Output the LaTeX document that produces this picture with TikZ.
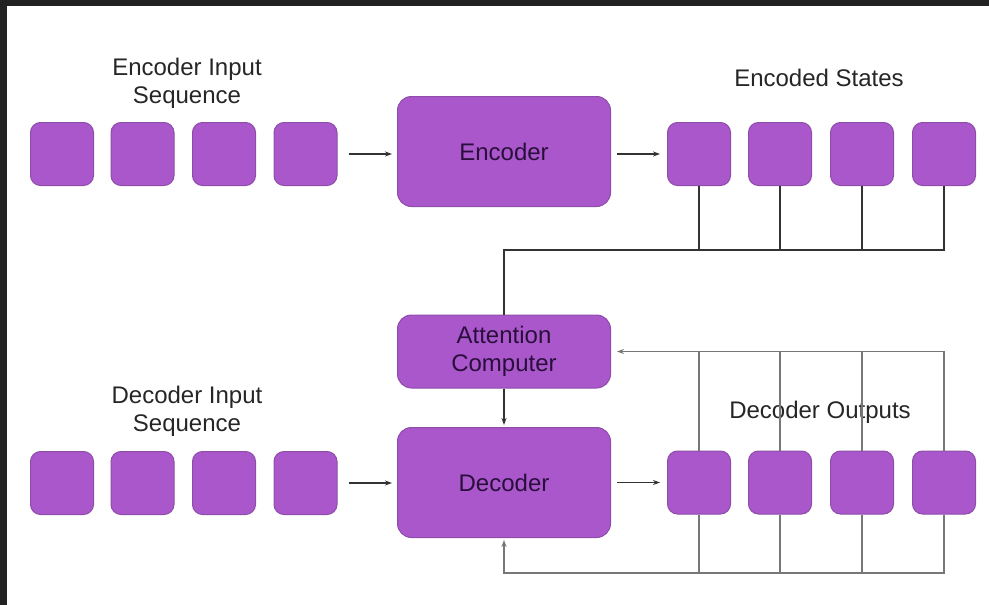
\documentclass[tikz,border=0pt]{standalone}
\usepackage{fontspec}
\setmainfont{Liberation Sans}
\usetikzlibrary{arrows.meta}
\definecolor{boxfill}{HTML}{A957CB}
\definecolor{boxline}{HTML}{8E4DA8}
\definecolor{boxtext}{HTML}{2A0F3C}
\definecolor{darkline}{HTML}{333333}
\definecolor{greyline}{HTML}{777777}
\definecolor{frame}{HTML}{222222}
\begin{document}
\begin{tikzpicture}[x=1pt,y=-1pt,
  token/.style={draw=boxline,line width=1pt,fill=boxfill,rounded corners=10pt,
    minimum width=63pt,minimum height=63pt,inner sep=0pt},
  bigbox/.style={draw=boxline,line width=1pt,fill=boxfill,rounded corners=14pt,
    minimum width=213pt,minimum height=110pt,inner sep=0pt,text=boxtext,
    font=\fontsize{24}{28.5}\selectfont,align=center},
  lbl/.style={font=\fontsize{24}{28}\selectfont,text=black!85,align=center},
  flow/.style={darkline,line width=1.3pt,-{Stealth[length=7pt,width=5pt]}},
  bus/.style={darkline,line width=1.3pt},
  gbus/.style={greyline,line width=1.3pt},
  gflow/.style={greyline,line width=1.3pt,-{Stealth[length=7pt,width=5pt]}}]
\useasboundingbox (0,0) rectangle (989,605);
\fill[frame] (0,0) rectangle (989,605);
\fill[white] (7,6) rectangle (989,605);

\foreach \i/\x in {1/62,2/142.5,3/224,4/305.5}{
  \node[token] (ei\i) at (\x,154) {};
  \node[token] (di\i) at (\x,483) {};
}
\foreach \i/\x in {1/699,2/780,3/862,4/944}{
  \node[token] (es\i) at (\x,154) {};
  \node[token] (do\i) at (\x,482.5) {};
}
\node[bigbox] (enc) at (504,151.5) {Encoder};
\node[bigbox] (dec) at (504,482.5) {Decoder};
\node[bigbox,minimum height=73pt] (att) at (504,351.5) {Attention\\Computer};

\node[lbl] (l1) at (187,83) {Encoder Input\\Sequence};
\node[lbl] (l2) at (819,78) {Encoded States};
\node[lbl] (l3) at (187,411) {Decoder Input\\Sequence};
\node[lbl] (l4) at (820,412) {Decoder Outputs};

\coordinate (tbus) at (504,250);
\coordinate (bbus) at (504,573);

\draw[flow,shorten <=11pt,shorten >=5pt] (ei4.east) -- (ei4.east -| enc.west);
\draw[flow,shorten <=6pt,shorten >=7pt] (es1.west -| enc.east) -- (es1.west);
\draw[flow,shorten <=11pt,shorten >=5pt] (di4.east) -- (di4.east -| dec.west);
\draw[flow,shorten <=6pt,shorten >=7pt] (dec.east) -- (do1.west);
\draw[flow,shorten >=2pt] (att.south) -- (dec.north);

\draw[bus] (att.north) -- (tbus) -| (es4.south);
\foreach \i in {1,2,3}{\draw[bus] (es\i.south) -- (es\i.south |- tbus);}

\draw[gflow,shorten >=6pt] (do4.north) |- (att.east);
\foreach \i in {1,2,3}{\draw[gbus] (do\i.north) -- (do\i.north |- att.east);}

\draw[gflow,shorten >=2pt] (do4.south) |- (bbus) -- (dec.south);
\foreach \i in {1,2,3}{\draw[gbus] (do\i.south) -- (do\i.south |- bbus);}
\end{tikzpicture}
\end{document}
